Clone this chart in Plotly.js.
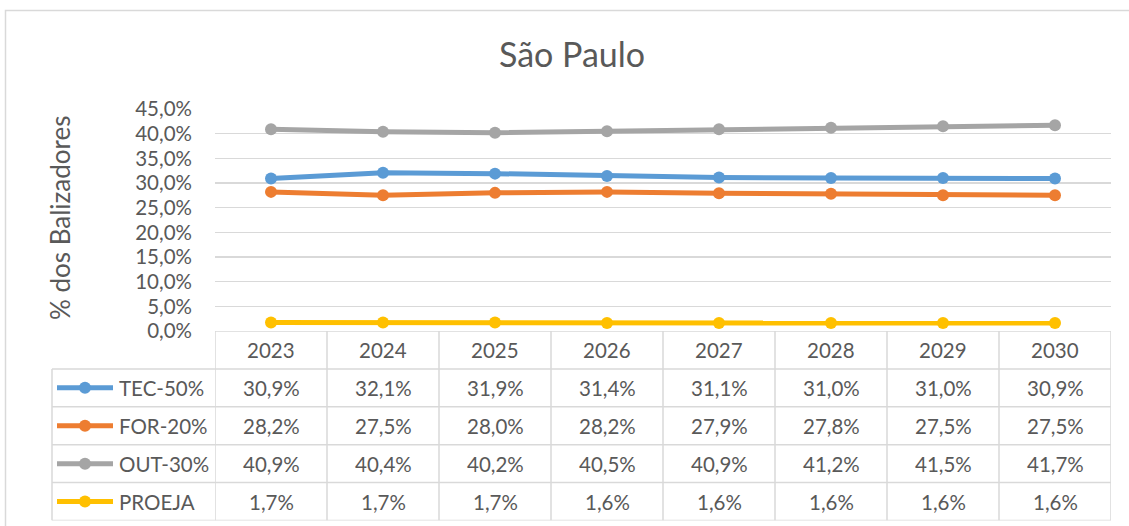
<!DOCTYPE html>
<html>
<head>
<meta charset="utf-8">
<script src="https://cdn.plot.ly/plotly-3.0.1.min.js"></script>
<style>html,body{margin:0;padding:0;background:#fff;}#chart{width:1129px;height:526px;}</style>
</head>
<body>
<div id="chart"></div>
<script>
// ---- data ----
const years = ['2023','2024','2025','2026','2027','2028','2029','2030'];
const seriesNames = ['TEC-50%','FOR-20%','OUT-30%','PROEJA'];
const tec = [30.9,32.1,31.9,31.4,31.1,31.0,31.0,30.9];
const forr = [28.2,27.5,28.0,28.2,27.9,27.8,27.5,27.5];
const out = [40.9,40.4,40.2,40.5,40.9,41.2,41.5,41.7];
const proeja = [1.7,1.7,1.7,1.6,1.6,1.6,1.6,1.6];
const chartTitle = 'São Paulo';
const yTitle = '% dos Balizadores';

// ---- styles ----
const W = 1129, H = 526;
const colors = ['#5B9BD5','#ED7D31','#A5A5A5','#FFC000'];
const values = [tec, forr, out, proeja];
const FONT = 'Lato, "Open Sans", sans-serif';
const TXT = '#595959';
const GRID = '#d9d9d9';
const px = x => x / W;
const py = y => 1 - y / H;
const plotL = 215, plotR = 1111, plotT = 109, plotB = 331, tableB = 520.5, tableL = 52;
const FS = 20.5;

const fmt = v => v.toFixed(1).replace('.', ',') + '%';

const traces = values.map((v, i) => ({
  type: 'scatter', mode: 'lines+markers', x: years, y: v, name: seriesNames[i],
  line: {color: colors[i], width: 5}, marker: {color: colors[i], size: 12},
  xaxis: 'x', yaxis: 'y', showlegend: false, hoverinfo: 'skip'
}));

const shapes = [];
const annotations = [];
// outer border
shapes.push({type:'rect', xref:'paper', yref:'paper', x0:px(5.5), x1:1.05, y0:-0.05, y1:py(10.5), line:{color:GRID, width:1.5}});
// table verticals
for (let i = 0; i <= years.length; i++) {
  shapes.push({type:'line', xref:'x', yref:'y2', x0:i-0.5, x1:i-0.5, y0:0, y1:5, line:{color:GRID, width:1.5}});
}
// left column vertical
shapes.push({type:'line', xref:'paper', yref:'y2', x0:px(tableL), x1:px(tableL), y0:0, y1:4, line:{color:GRID, width:1.5}});
// horizontals
for (let r = 0; r <= 4; r++) {
  shapes.push({type:'line', xref:'paper', yref:'y2', x0:px(tableL), x1:px(plotR), y0:r, y1:r, line:{color:GRID, width:1.5}});
}
shapes.push({type:'line', xref:'paper', yref:'y2', x0:px(plotL), x1:px(plotR), y0:5, y1:5, line:{color:GRID, width:1.5}});

// header years
years.forEach((yr, j) => {
  annotations.push({xref:'x', yref:'y2', x:j, y:4.5, text:yr, showarrow:false, font:{family:FONT, size:FS, color:TXT}});
});
// rows
seriesNames.forEach((nm, i) => {
  const yc = 3.5 - i;
  // legend key
  shapes.push({type:'line', xref:'paper', yref:'y2', x0:px(57), x1:px(113), y0:yc, y1:yc, line:{color:colors[i], width:5}});
  shapes.push({type:'circle', xref:'paper', yref:'y2', xsizemode:'pixel', ysizemode:'pixel', xanchor:px(85), yanchor:yc,
               x0:-6, x1:6, y0:-6, y1:6, fillcolor:colors[i], line:{color:colors[i], width:0}});
  annotations.push({xref:'paper', yref:'y2', x:px(117), y:yc, xanchor:'left', text:nm, showarrow:false, font:{family:FONT, size:FS, color:TXT}});
  values[i].forEach((v, j) => {
    annotations.push({xref:'x', yref:'y2', x:j, y:yc, text:fmt(v), showarrow:false, font:{family:FONT, size:FS, color:TXT}});
  });
});
// y title
annotations.push({xref:'paper', yref:'paper', x:px(60), y:py(218), xanchor:'center', yanchor:'middle', text:yTitle, textangle:-90, showarrow:false, font:{family:FONT, size:26, color:TXT}});

const layout = {
  width: W, height: H,
  margin: {l:0, r:0, t:0, b:0},
  paper_bgcolor: '#fff', plot_bgcolor: '#fff',
  separators: ',.',
  title: {text: chartTitle, x: px(572), xanchor:'center', y: py(55), yanchor:'middle', yref:'container', xref:'container',
          font:{family:FONT, size:34, color:TXT}},
  xaxis: {type:'category', domain:[px(plotL), px(plotR)], range:[-0.5, 7.5], anchor:'y',
          showticklabels:false, ticks:'', showgrid:false, zeroline:false, showline:false, fixedrange:true},
  yaxis: {domain:[py(plotB), py(plotT)], range:[0, 45], dtick:5, tick0:0, tickformat:'.1f', ticksuffix:'%',
          ticks:'', ticklabelstandoff:22, showgrid:true, gridcolor:GRID, gridwidth:1.5, zeroline:false, showline:false,
          tickfont:{family:FONT, size:FS, color:TXT}, anchor:'x', fixedrange:true},
  yaxis2: {domain:[py(tableB), py(plotB)], range:[0, 5], anchor:'x', visible:false, showgrid:false, zeroline:false, fixedrange:true},
  shapes: shapes,
  annotations: annotations,
  showlegend: false
};

Plotly.newPlot('chart', traces, layout, {staticPlot:true, displayModeBar:false});
</script>
</body>
</html>
